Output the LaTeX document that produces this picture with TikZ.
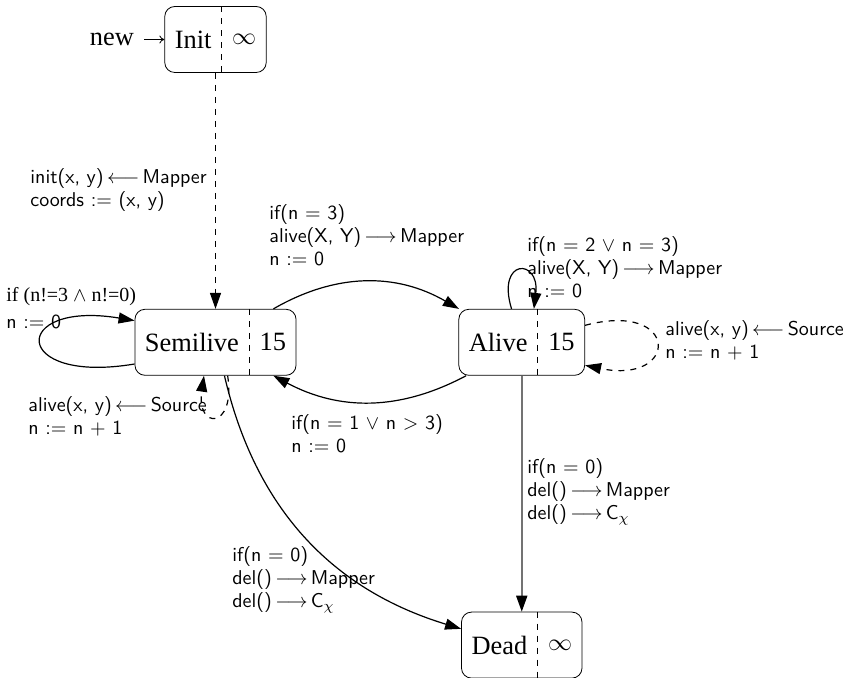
\documentclass[tikz,border=0pt]{standalone}
\usepackage{amsmath,amssymb}
\usepackage{fontspec}
\setmainfont{Liberation Serif}
\usepackage{xcolor}
\usepackage{tikz}
\usetikzlibrary{shapes.multipart,arrows.meta,positioning}

\begin{document}
\begin{tikzpicture}[
    x=0.5pt, y=-0.5pt,
    state/.style={rectangle split, rectangle split horizontal, rectangle split parts=2,
        rectangle split draw splits=false, draw, rounded corners=5pt,
        minimum height=33pt, inner xsep=5pt, font=\fontsize{13.2}{15}\selectfont},
    arrow/.style={-{Triangle[length=8pt,width=5.5pt]}, semithick},
    lbl/.style={anchor=west, align=left, inner sep=0pt, font=\fontsize{10}{11.5}\sffamily}
]
    \useasboundingbox (0,0) rectangle (852,678);

    \node[state] (init) at (215.5,39.5) {Init \nodepart{two} $\infty$};
    \node[state, below=118pt of init] (semi) {Semilive \nodepart{two} 15};
    \node[state, right=81pt of semi] (alive) {Alive \nodepart{two} 15};
    \node[state, below=118pt of alive] (dead) {Dead \nodepart{two} $\infty$};
    \node[left=10pt of init, inner sep=0pt, inner xsep=5pt, font=\fontsize{13.2}{15}\selectfont] (new) {new};

    % dashed dividers
    \foreach \s in {init,semi,alive,dead}
        \draw[dashed] (\s.one split north) -- (\s.one split south);

    \draw[-{To[length=2.5pt,width=4pt]}] (new) -- (init);
    \draw[arrow, dashed] (init) -- (semi);
    \draw[arrow] (semi.30) to[bend left=30] (alive.152);
    \draw[arrow] (alive.211) to[bend left=28] (semi.330);
    \draw[arrow] (semi.195) .. controls (10,385) and (10,300) .. (semi.165);
    \draw[arrow, dashed] (semi.290) .. controls (236,430) and (196,430) .. (semi.251);
    \draw[arrow] (semi.285) to[bend right=30] (dead.165);
    \draw[arrow] (alive.107) .. controls (496,258) and (540,258) .. (alive.70);
    \draw[arrow, dashed] (alive.15) .. controls (680,300) and (680,385) .. (alive.340);
    \draw[-{Triangle[length=8pt,width=5.5pt,color=black]}, line width=0.9pt, black!55] (alive) -- (dead);

    % labels
    \node[lbl] (initlbl) at (30,190) {init(x, y)\,$\longleftarrow$\,Mapper\\coords := (x, y)};
    \node[lbl] (birthlbl) at (269,235) {if(n = 3)\\alive(X, Y)\,$\longrightarrow$\,Mapper\\n := 0};
    \node[lbl, font=\fontsize{10}{11.5}\rmfamily] (resetlbl) at (6,297) {if (n!=3 $\wedge$ n!=0)};
    \node[lbl] (resetlbl2) at (6,322) {n := 0};
    \node[lbl] (semisrc) at (28,416) {alive(x, y)\,$\longleftarrow$\,Source\\n := n + 1};
    \node[lbl] (backlbl) at (291,434) {if(n = 1 $\vee$ n > 3)\\n := 0};
    \node[lbl] (semidel) at (232,580) {if(n = 0)\\del()\,$\longrightarrow$\,Mapper\\del()\,$\longrightarrow$\,C$_\chi$};
    \node[lbl] (alivedel) at (527,492) {if(n = 0)\\del()\,$\longrightarrow$\,Mapper\\del()\,$\longrightarrow$\,C$_\chi$};
    \node[lbl] (stay) at (527,267) {if(n = 2 $\vee$ n = 3)\\alive(X, Y)\,$\longrightarrow$\,Mapper\\n := 0};
    \node[lbl] (alivesrc) at (665,340) {alive(x, y)\,$\longleftarrow$\,Source\\n := n + 1};
\end{tikzpicture}
\end{document}
